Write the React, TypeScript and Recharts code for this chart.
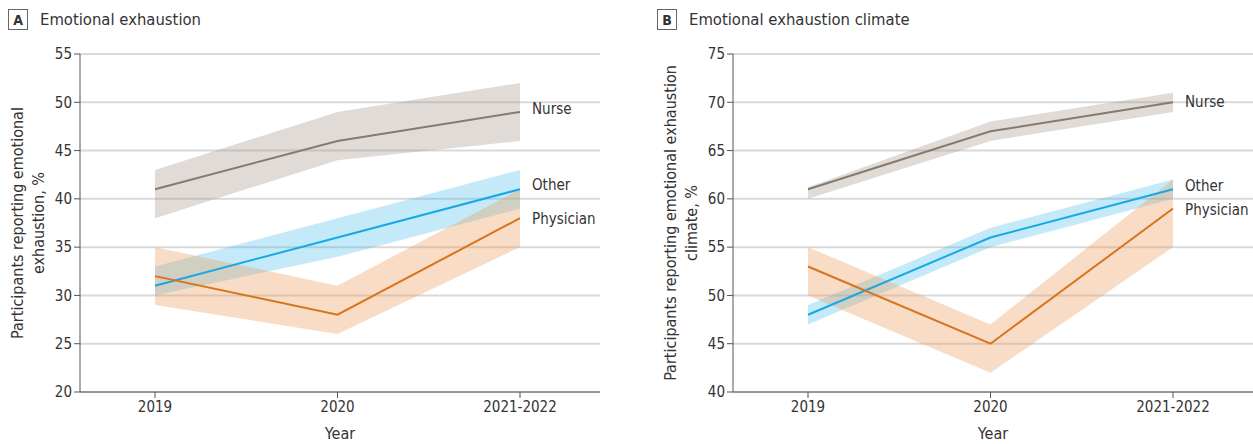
import React from 'react';
import { ComposedChart, Area, Line, XAxis, YAxis, CartesianGrid, Label } from 'recharts';

const years = ['2019', '2020', '2021-2022'];

// Panel A - emotional exhaustion
const nurseA = [41, 46, 49];
const nurseALow = [38, 44, 46];
const nurseAHigh = [43, 49, 52];
const otherA = [31, 36, 41];
const otherALow = [30, 34, 39];
const otherAHigh = [33, 38, 43];
const physA = [32, 28, 38];
const physALow = [29, 26, 35];
const physAHigh = [35, 31, 41];
const ticksA = [20, 25, 30, 35, 40, 45, 50, 55];

// Panel B - emotional exhaustion climate
const nurseB = [61, 67, 70];
const nurseBLow = [60, 66, 69];
const nurseBHigh = [61.2, 68, 71];
const otherB = [48, 56, 61];
const otherBLow = [47, 55, 60];
const otherBHigh = [49, 57, 62];
const physB = [53, 45, 59];
const physBLow = [50, 42, 55];
const physBHigh = [55, 47, 62];
const ticksB = [40, 45, 50, 55, 60, 65, 70, 75];

const FONT = "'Liberation Sans Narrow', 'DejaVu Sans Condensed', sans-serif";
const TXT = '#333';

const buildRows = (n: number[], nl: number[], nh: number[], o: number[], ol: number[], oh: number[],
    p: number[], pl: number[], ph: number[]) =>
    years.map((year, i) => ({
        year,
        nurse: n[i], nurseBand: [nl[i], nh[i]],
        other: o[i], otherBand: [ol[i], oh[i]],
        phys: p[i], physBand: [pl[i], ph[i]],
    }));

const rowsA = buildRows(nurseA, nurseALow, nurseAHigh, otherA, otherALow, otherAHigh, physA, physALow, physAHigh);
const rowsB = buildRows(nurseB, nurseBLow, nurseBHigh, otherB, otherBLow, otherBHigh, physB, physBLow, physBHigh);

const endLabel = (name: string, dy: number) => (props: any) => {
    if (props.index !== years.length - 1) return null;
    return (
        <text x={props.x + 12} y={props.y + dy} fill={TXT} fontSize={15} fontFamily={FONT} dominantBaseline="middle">
            {name}
        </text>
    );
};

const yLabel = (lines: string[]) => (props: any) => {
    const vb = props.viewBox;
    const cy = vb.y + vb.height / 2;
    return (
        <g>
            {lines.map((l, i) => (
                <text key={i} x={0} y={0} transform={`translate(${18 + i * 21}, ${cy}) rotate(-90)`}
                    textAnchor="middle" dominantBaseline="middle" fill={TXT} fontSize={16} fontFamily={FONT}>
                    {l}
                </text>
            ))}
        </g>
    );
};

interface PanelProps {
    rows: any[];
    domain: [number, number];
    ticks: number[];
    labelLines: string[];
    width: number;
    right: number;
    offsets: { nurse: number; other: number; phys: number };
}

const Panel: React.FC<PanelProps> = ({ rows, domain, ticks, labelLines, width, right, offsets }) => (
    <ComposedChart width={width} height={444} data={rows} margin={{ top: 54, right, bottom: 22, left: 0 }}>
        <CartesianGrid vertical={false} stroke="#d9d9d9" strokeWidth={2} />
        <XAxis dataKey="year" height={30} padding={{ left: 75, right: 80 }} stroke="#555" tickSize={6}
            tick={{ fill: TXT, fontSize: 15, fontFamily: FONT }} tickMargin={3}>
            <Label value="Year" position="insideBottom" offset={-17} fill={TXT} fontSize={16} fontFamily={FONT} />
        </XAxis>
        <YAxis domain={domain} ticks={ticks} width={80} stroke="#555" tickSize={6} interval={0}
            tick={{ fill: TXT, fontSize: 15, fontFamily: FONT }} tickMargin={2}
            label={yLabel(labelLines)} />
        <Area dataKey="nurseBand" type="linear" fill="#a8998f" fillOpacity={0.35} stroke="none" isAnimationActive={false} activeDot={false} />
        <Area dataKey="otherBand" type="linear" fill="#3db8ee" fillOpacity={0.3} stroke="none" isAnimationActive={false} activeDot={false} />
        <Area dataKey="physBand" type="linear" fill="#eb9a5a" fillOpacity={0.35} stroke="none" isAnimationActive={false} activeDot={false} />
        <Line dataKey="nurse" type="linear" stroke="#857a6e" strokeWidth={2} dot={false} activeDot={false}
            isAnimationActive={false} label={endLabel('Nurse', offsets.nurse)} />
        <Line dataKey="other" type="linear" stroke="#19a8e6" strokeWidth={2} dot={false} activeDot={false}
            isAnimationActive={false} label={endLabel('Other', offsets.other)} />
        <Line dataKey="phys" type="linear" stroke="#d9731c" strokeWidth={2} dot={false} activeDot={false}
            isAnimationActive={false} label={endLabel('Physician', offsets.phys)} />
    </ComposedChart>
);

const Title: React.FC<{ letter: string; text: string; left: number }> = ({ letter, text, left }) => (
    <div style={{ position: 'absolute', left, top: 9, display: 'flex', alignItems: 'center', fontFamily: FONT, color: TXT }}>
        <div style={{
            width: 18, height: 19, border: '1px solid #666', display: 'flex', alignItems: 'center',
            justifyContent: 'center', fontWeight: 'bold', fontSize: 14,
        }}>{letter}</div>
        <div style={{ marginLeft: 12, fontSize: 16.5 }}>{text}</div>
    </div>
);

export default function App() {
    return (
        <div style={{ position: 'absolute', left: 0, top: 0, width: 1253, height: 444, background: '#fff' }}>
            <div style={{ position: 'absolute', left: 0, top: 0 }}>
                <Panel rows={rowsA} domain={[20, 55]} ticks={ticksA} width={626} right={26}
                    labelLines={['Participants reporting emotional', 'exhaustion, %']}
                    offsets={{ nurse: -2, other: -4, phys: 1 }} />
            </div>
            <div style={{ position: 'absolute', left: 653, top: 0 }}>
                <Panel rows={rowsB} domain={[40, 75]} ticks={ticksB} width={600} right={0}
                    labelLines={['Participants reporting emotional exhaustion', 'climate, %']}
                    offsets={{ nurse: 0, other: -3, phys: 2 }} />
            </div>
            <Title letter="A" text="Emotional exhaustion" left={8} />
            <Title letter="B" text="Emotional exhaustion climate" left={657} />
        </div>
    );
}
